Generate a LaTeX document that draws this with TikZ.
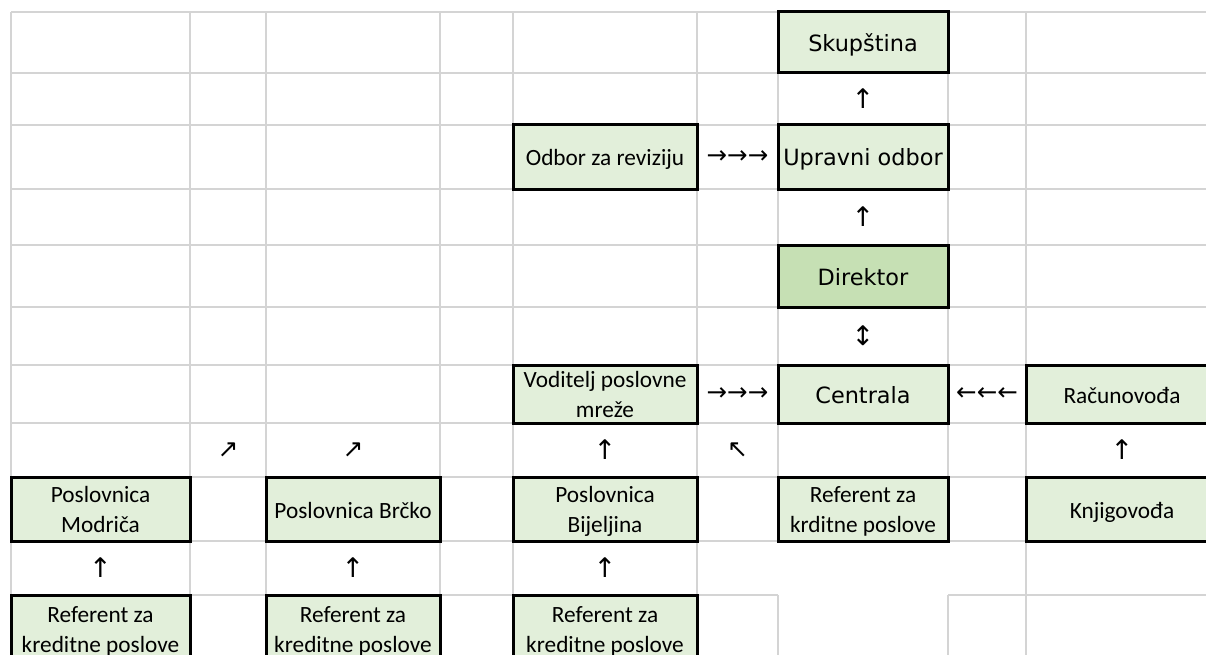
\documentclass[tikz,border=0pt]{standalone}
\usepackage{fontspec}
\setmainfont{Carlito}
\newfontfamily\dv{DejaVu Sans}
\usetikzlibrary{calc}
\definecolor{gridc}{HTML}{D4D4D4}
\definecolor{boxg}{HTML}{E2EFDA}
\definecolor{boxd}{HTML}{C6E0B4}
\newcommand{\calfnt}{\fontsize{23.3}{29.5}\selectfont}
\newcommand{\dvf}{\dv\fontsize{22.4}{28}\selectfont}
\tikzset{
  gridl/.style={draw=gridc, line width=1.3pt},
  cellbox/.style={draw=black, line width=3pt, fill=boxg, inner sep=0pt,
    font=\calfnt, text height=18pt, text depth=0pt},
  twoline/.style={align=center, text height=46pt, text depth=0pt},
  arr/.style={inner sep=0pt, font=\dv\fontsize{27}{30}\selectfont},
  arrh/.style={inner sep=0pt, font=\dv\fontsize{24.5}{30}\selectfont},
  arrd/.style={inner sep=0pt, font=\dv\fontsize{25}{30}\selectfont}
}
\begin{document}
\begin{tikzpicture}[x=1pt,y=-1pt]
\useasboundingbox (0,0) rectangle (1206,655);
\clip (0,0) rectangle (1206,655);
\fill[white] (0,0) rectangle (1206,655);
% grid
\foreach \x in {11,190,266,440,513,697,1026} \draw[gridl] (\x,12) -- (\x,680);
\foreach \x in {778,948} {\draw[gridl] (\x,12) -- (\x,541); \draw[gridl] (\x,595) -- (\x,680);}
\foreach \y in {12,73,125,189,245,307,365,423,477,541} \draw[gridl] (11,\y) -- (1240,\y);
\draw[gridl] (11,595) -- (778,595) (948,595) -- (1240,595);
% boxes
\node[cellbox, minimum width=170, minimum height=61, font=\dvf] (skup) at (863,42.5) {Skupština};
\node[cellbox, minimum width=170, minimum height=64, font=\dvf] (upr) at (863,157) {Upravni odbor};
\node[cellbox, minimum width=184, minimum height=64] (odbor) at (605,157) {Odbor za reviziju};
\node[cellbox, minimum width=170, minimum height=62, font=\dvf, fill=boxd] (dir) at (863,276) {Direktor};
\node[cellbox, twoline, minimum width=184, minimum height=58] (vod) at (605,394) {Voditelj poslovne\\mreže};
\node[cellbox, minimum width=170, minimum height=58, font=\dvf] (cent) at (863,394) {Centrala};
\node[cellbox, minimum width=192, minimum height=58] (rac) at (1122,394) {Računovođa};
\node[cellbox, twoline, minimum width=179, minimum height=64] (pmod) at (100.5,509) {Poslovnica\\Modriča};
\node[cellbox, minimum width=174, minimum height=64] (pbrc) at (353,509) {Poslovnica Brčko};
\node[cellbox, twoline, minimum width=184, minimum height=64] (pbij) at (605,509) {Poslovnica\\Bijeljina};
\node[cellbox, twoline, minimum width=170, minimum height=64] (refc) at (863,509) {Referent za\\krditne poslove};
\node[cellbox, minimum width=192, minimum height=64] (knj) at (1122,509) {Knjigovođa};
\node[cellbox, twoline, minimum width=179, minimum height=68] (ref1) at (100.5,629) {Referent za\\kreditne poslove};
\node[cellbox, twoline, minimum width=174, minimum height=68] (ref2) at (353,629) {Referent za\\kreditne poslove};
\node[cellbox, twoline, minimum width=184, minimum height=68] (ref3) at (605,629) {Referent za\\kreditne poslove};
% helper coordinates
\coordinate (rowA) at ($(vod.south)!0.5!(pbij.north)$);
\coordinate (gapMB) at ($(pmod.north east)!0.5!(pbrc.north west)$);
% arrows (glyphs in cells)
\node[arr] (a1) at ($(skup.south)!0.5!(upr.north)$) {↑};
\node[arrh] (a2) at ($(odbor.east)!0.5!(upr.west)$) {→→→};
\node[arr] (a3) at ($(upr.south)!0.5!(dir.north)$) {↑};
\node[arr] (a4) at ($(dir.south)!0.5!(cent.north)$) {↕};
\node[arrh] (a5) at ($(vod.east)!0.5!(cent.west)$) {→→→};
\node[arrh] (a6) at ($(cent.east)!0.5!(rac.west)$) {←←←};
\node[arrd] (a7) at (gapMB |- rowA) {↗};
\node[arrd] (a8) at (pbrc.north |- rowA) {↗};
\node[arr] (a9) at (rowA) {↑};
\node[arrd] (a10) at ($(vod.south east)!0.5!(refc.north west)$) {↖};
\node[arr] (a11) at ($(rac.south)!0.5!(knj.north)$) {↑};
\node[arr] (a12) at ($(pmod.south)!0.5!(ref1.north)$) {↑};
\node[arr] (a13) at ($(pbrc.south)!0.5!(ref2.north)$) {↑};
\node[arr] (a14) at ($(pbij.south)!0.5!(ref3.north)$) {↑};
\end{tikzpicture}
\end{document}
